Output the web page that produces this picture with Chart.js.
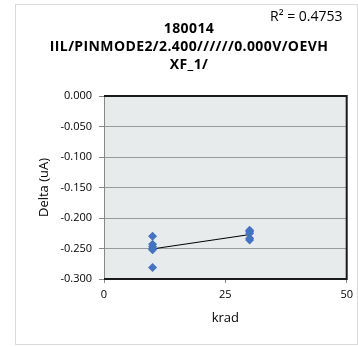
<!DOCTYPE html>
<html>
<head>
<meta charset="utf-8">
<script src="https://cdn.jsdelivr.net/npm/chart.js@4"></script>
<style>
  html, body { margin: 0; padding: 0; background: #fff; }
  #wrap { width: 358px; height: 347px; }
</style>
</head>
<body>
<div id="wrap"><canvas id="chart" width="358" height="347"></canvas></div>
<script>
// data
const kradGroupA = [10, 10, 10, 10, 10, 10];
const deltaGroupA = [-0.230, -0.243, -0.247, -0.251, -0.252, -0.281];
const kradGroupB = [30, 30, 30, 30, 30];
const deltaGroupB = [-0.220, -0.222, -0.225, -0.233, -0.236];

const titleLines = ['180014', 'IIL/PINMODE2/2.400//////0.000V/OEVH', 'XF_1/'];
const rSquaredText = 'R\u00B2 = 0.4753';
const yTicks = { min: -0.3, max: 0, step: 0.05 };
const xTicks = { min: 0, max: 50, step: 25 };

const FONT = "'Open Sans', 'Liberation Sans', Arial, sans-serif";

const points = kradGroupA.map((x, i) => ({ x, y: deltaGroupA[i] }))
  .concat(kradGroupB.map((x, i) => ({ x, y: deltaGroupB[i] })));

// least squares line, like Excel's linear trendline
function linearFit(pts) {
  const n = pts.length;
  const mx = pts.reduce((s, p) => s + p.x, 0) / n;
  const my = pts.reduce((s, p) => s + p.y, 0) / n;
  let sxy = 0, sxx = 0;
  pts.forEach(p => { sxy += (p.x - mx) * (p.y - my); sxx += (p.x - mx) ** 2; });
  const slope = sxy / sxx;
  return x => my + slope * (x - mx);
}
const fit = linearFit(points);
const xs = points.map(p => p.x);
const trend = [Math.min(...xs), Math.max(...xs)].map(x => ({ x, y: fit(x) }));

const frame = {
  id: 'frame',
  beforeDraw(chart) {
    const { ctx, chartArea: a } = chart;
    ctx.save();
    ctx.fillStyle = '#fff';
    ctx.fillRect(0, 0, chart.width, chart.height);
    ctx.strokeStyle = '#d9d9d9';
    ctx.lineWidth = 1;
    ctx.strokeRect(15.5, 4.5, 342, 340);
    ctx.fillStyle = '#e7ebeb';
    ctx.fillRect(a.left, a.top, a.right - a.left, a.bottom - a.top);
    ctx.restore();
  },
  afterDraw(chart) {
    const { ctx, chartArea: a } = chart;
    ctx.save();
    ctx.strokeStyle = '#1a1a1a';
    ctx.lineWidth = 2;
    ctx.beginPath();
    ctx.moveTo(a.left, a.top);
    ctx.lineTo(a.right, a.top);
    ctx.lineTo(a.right, a.bottom);
    ctx.lineTo(a.left, a.bottom);
    ctx.stroke();
    // title + R² label
    ctx.fillStyle = '#000';
    ctx.textAlign = 'center';
    ctx.textBaseline = 'middle';
    ctx.font = 'bold 14px ' + FONT;
    ctx.letterSpacing = '0.4px';
    titleLines.forEach((t, i) => ctx.fillText(t, 189, 29 + i * 18));
    ctx.letterSpacing = '0px';
    ctx.font = '14px ' + FONT;
    ctx.textAlign = 'left';
    ctx.fillText(rSquaredText, 270, 17);
    ctx.restore();
  }
};

new Chart(document.getElementById('chart'), {
  type: 'scatter',
  data: {
    datasets: [
      {
        label: 'Delta',
        data: points,
        pointStyle: 'rectRot',
        pointRadius: 4.5,
        backgroundColor: '#4472c4',
        borderColor: '#4472c4',
        borderWidth: 0
      },
      {
        label: 'Trend',
        type: 'line',
        data: trend,
        borderColor: '#000',
        borderWidth: 1,
        pointRadius: 0,
        fill: false
      }
    ]
  },
  options: {
    responsive: false,
    animation: false,
    layout: { padding: { left: 30, top: 96, right: 10, bottom: 0 } },
    plugins: { legend: { display: false }, tooltip: { enabled: false } },
    scales: {
      x: {
        type: 'linear',
        min: xTicks.min,
        max: xTicks.max,
        ticks: { stepSize: xTicks.step, color: '#000', font: { family: FONT, size: 11 }, padding: 5 },
        grid: { drawOnChartArea: false, drawTicks: true, tickLength: 4, color: '#888' },
        border: { color: '#888' },
        title: { display: true, text: 'krad', color: '#000', font: { family: FONT, size: 13 }, padding: { top: 4, bottom: 21 } },
        afterFit: s => { s.height = 68; }
      },
      y: {
        min: yTicks.min,
        max: yTicks.max,
        ticks: {
          stepSize: yTicks.step,
          color: '#000',
          font: { family: FONT, size: 11 },
          padding: 7,
          callback: v => v.toFixed(3)
        },
        grid: { color: '#9a9a9a', tickLength: 5, tickColor: '#888' },
        border: { color: '#888' },
        title: { display: true, text: 'Delta (uA)', color: '#000', font: { family: FONT, size: 13 }, padding: { top: 6 } },
        afterFit: s => { s.width = 74; }
      }
    }
  },
  plugins: [frame]
});
</script>
</body>
</html>
